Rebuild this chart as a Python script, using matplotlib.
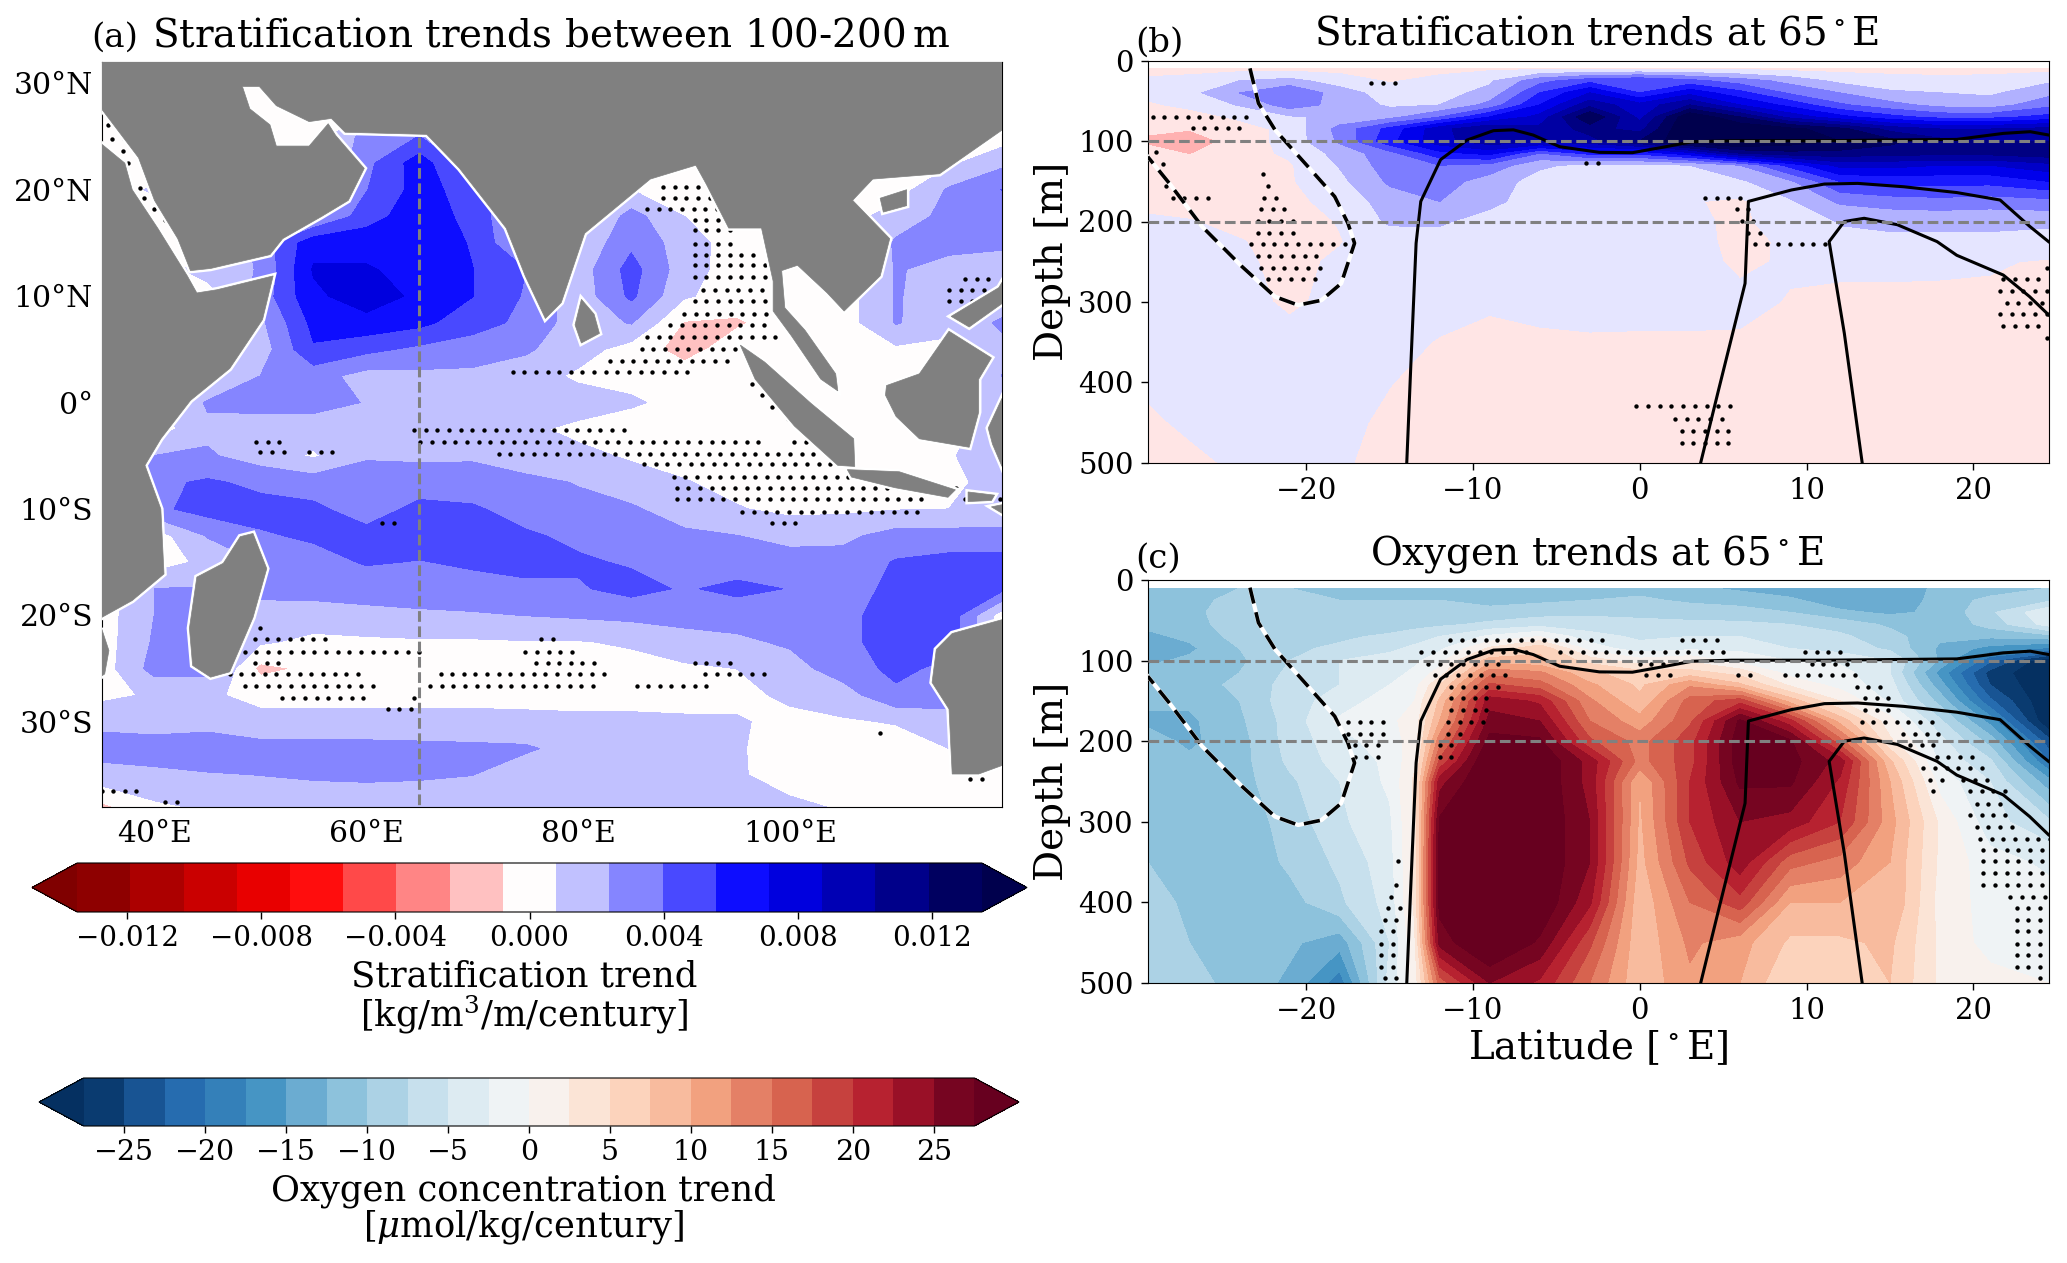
import numpy as np
import matplotlib
matplotlib.use('Agg')
import matplotlib.pyplot as plt

plt.rcParams['font.family'] = 'DejaVu Serif'
plt.rcParams['mathtext.fontset'] = 'dejavuserif'

# panel (a): stratification trend, 1e-3 kg/m3/m/century
lon_a = [35, 40, 45, 50, 55, 60, 65, 70, 75, 80, 85, 90, 95, 100, 105, 110, 115, 120]
lat_a = [-38, -35, -32.5, -30, -27.5, -25, -22.5, -20, -17.5, -15, -12.5, -10, -7.5, -5, -2.5,
         0, 2.5, 5, 7.5, 10, 12.5, 15, 17.5, 20, 22.5, 25, 27.5, 30, 32]
strat_map = [
    [-1.2, 0.5, 1.0, 1.2, 1.3, 1.3, 1.3, 1.3, 1.3, 1.3, 1.3, 1.3, 1.1, 1.0, 0.7, 0.3, 0.3, 0],
    [1.8, 2.0, 2.2, 2.4, 2.6, 2.7, 2.6, 2.4, 1.5, 1.4, 1.4, 1.3, 0.9, 0.4, 0.2, 0.2, 0.2, 0],
    [3, 3.2, 3.8, 3.0, 2.9, 2.9, 2.8, 2.7, 2.6, 1.8, 1.5, 1.3, 0.9, 0.3, 0, 0, 0.8, 0],
    [2.0, 1.6, 1.5, 1.2, 1.3, 1.3, 1.3, 1.3, 1.2, 1.1, 1.1, 1.0, 0.9, 0.5, 0.6, 0.9, 1.3, 0.3],
    [0.4, 1.0, 1.0, 0.4, 0.3, 0.3, 0.3, 0.3, 0.3, 0.3, 0.3, 0.3, 0.5, 1.0, 1.7, 3.6, 3.5, 0],
    [0, 3, 3, -1.2, -0.5, 0.1, 0.2, 0.2, 0.2, 0.2, 0.2, 0.5, 0.8, 1.8, 3.1, 4.4, 3.5, 0],
    [0, 2.6, 3, 1, 0.4, 0.5, 0.6, 0.6, 0.7, 0.7, 1.0, 1.8, 2.1, 2.6, 3.6, 4.6, 4.8, 0],
    [0, 2.4, 3, 1.5, 1.6, 1.9, 2.1, 2.2, 2.4, 2.6, 2.8, 2.9, 3, 3.1, 3.6, 4.6, 5, 0],
    [0, 2.4, 2.5, 3, 3.0, 3.1, 3.2, 3.4, 3.6, 3.8, 4.5, 3.8, 4.4, 3.9, 3.4, 4.3, 4.4, 4.4],
    [0, 0, 1.2, 2.4, 3.4, 4.1, 3.9, 4.2, 4.5, 4.2, 3.8, 3.2, 3.1, 3.0, 3.0, 4.1, 4.5, 4.5],
    [0, 0, 2.5, 3.8, 4.2, 4.5, 4.7, 4.6, 4.2, 3.6, 3.0, 2.7, 2.4, 1.9, 2.0, 3.0, 3.0, 3.0],
    [0, 3.6, 4.6, 4.5, 4.3, 3.2, 4.4, 4.2, 3.3, 2.8, 2.6, 1.6, 0.9, 0.4, 0.5, 0.7, 0.8, 1.0],
    [0, 3.6, 4.2, 3.6, 3.2, 3.2, 3.2, 3.0, 2.8, 2.3, 1.5, 0.9, 0.3, 0, 0, 0.2, 0.3, 1.6],
    [0, 2.4, 2.6, 1.6, 0.6, 2.2, 2.1, 2.2, 1.5, 1.2, 0.6, 0.2, 0, 0, 0, 0, 0.6, 2],
    [0, 0, 2, 1.5, 1.5, 1.7, 1.6, 1.5, 1.1, 0.4, 0, 0, 0, 0, 0, 0, 0, 2],
    [0, 0, 2.6, 3, 3, 2.3, 1.8, 1.8, 1.6, 1.6, 1.0, 0.3, 0, 0, 0, 0, 0, 2],
    [0, 0, 0, 2.4, 3, 1.8, 2, 2, 1.6, 0.5, 0.3, 0, 0, 0, 0, 0, 0, 2.4],
    [0, 0, 0, 1.5, 5.4, 4.4, 3.6, 3.2, 2.6, 1.5, 0.1, -1.4, 0, 0, 0, 0.5, 0.3, 2],
    [0, 0, 0, 2, 6, 6.6, 6.0, 4.6, 3.6, 1.5, 2.5, -0.9, -1.0, 0, 0, 2.5, 1.4, 2.6],
    [0, 0, 0, 3, 6.8, 8, 6.8, 5.6, 3.8, 1.4, 4.3, 1.0, 0, 0, 0, 2.5, 1.6, 1.5],
    [0, 0, 1.5, 2.5, 7.3, 7.3, 6.6, 5.6, 4, 1.5, 4.6, 1.5, 0, 0, 0, 2.5, 1.9, 1.8],
    [0, 0, 0, 3, 6.6, 6.6, 6.8, 5.4, 2, 1, 3.6, 1.6, 0, 0, 0, 2.6, 2.8, 2.6],
    [0, 0, 0, 0, 2, 4.8, 6.6, 5, 2, 0, 3, 0.8, 0, 0, 0, 1.6, 2.8, 2.8],
    [0, 1, 0, 0, 2, 3.9, 6.2, 4.8, 2, 0, 0.8, 0, 0, 0, 0, 0, 2.6, 4],
    [0, 0, 0, 0, 0, 3.5, 6.4, 3, 0, 0, 0, 0, 0, 0, 0, 0, 0.5, 2],
    [0, 0, 0, 0, 0, 3, 4, 1, 0, 0, 0, 0, 0, 0, 0, 0, 0, 0],
    [0] * 18,
    [0] * 18,
    [0] * 18,
]

# land outlines, lon/lat
eurasia = [(35, 27.6), (38.5, 23), (40, 19), (42.2, 15.4), (43.4, 12.4), (45.3, 12.6), (50.9, 13.9),
           (52.1, 15.4), (55.8, 17.5), (58.3, 19), (59.8, 22), (57.1, 25.1), (56.4, 26.2), (54.6, 24.1),
           (51.5, 24.1), (50.9, 26.1), (49, 27.6), (48.3, 29.7), (49.9, 29.7), (51.5, 27.9), (54.6, 26.4),
           (56.7, 26.7), (58, 25.4), (65.7, 25.2), (68.8, 22), (73.2, 16.4), (75, 11.9), (76.9, 7.9),
           (78.4, 9.4), (80.6, 15.9), (86.8, 21), (91.1, 22.3), (92.1, 20.5), (94.2, 16.4), (97.3, 16.4),
           (98.4, 11.4), (98.4, 8.6), (100.1, 6.3), (102.9, 2.2), (104.5, 1.1), (104.3, 2.7), (101.4, 6.8),
           (99.5, 8.9), (99.2, 12.4), (100.7, 12.9), (103.5, 10.3), (105.1, 8.6), (108.5, 11.9),
           (109.4, 15.4), (105.9, 19), (107.8, 21), (114.1, 21.5), (120, 25.6), (120, 32), (35, 32)]
africa = [(35, 24.3), (37.2, 22.5), (37.9, 20), (40.3, 16.4), (43.1, 11.9), (44, 10.3), (45.9, 10.6),
          (51.2, 11.9), (50.2, 7.8), (47.1, 3.2), (43.4, 0.2), (40.6, -3.4), (39.1, -5.9), (40.6, -10),
          (40.9, -16.1), (37.9, -18.6), (35, -20.2)]
africa_south = [(35, -21.2), (35.7, -23.3), (35.3, -25.5), (35, -25.7)]
madagascar = [(49.3, -12.3), (50.6, -15.6), (49.3, -20.2), (47.1, -25.3), (45.3, -25.8), (43.6, -24.7),
              (43.3, -21.2), (44, -16.4), (46.5, -15.1), (48.1, -12.6)]
sri_lanka = [(80.3, 9.7), (81.5, 8.3), (82, 6.5), (80.3, 5.6), (79.7, 7.3)]
sumatra = [(95.3, 5.4), (97.6, 3.8), (102, -0.1), (106, -3.4), (106.1, -6), (104.5, -5.9), (100.4, -2.2),
           (96.7, 2.2)]
java = [(105.4, -6.3), (110.3, -6.5), (115.6, -8.2), (114.9, -8.9), (109.9, -8), (105.8, -7)]
sunda = [(116.8, -8.4), (119.3, -8.7), (119, -9.2), (116.8, -9.3)]
timor = [(119, -9.8), (120, -9.6), (120, -10.4)]
borneo = [(115, 6.7), (119, 4.2), (117.8, 2.2), (117.8, -0.9), (116.9, -4.2), (112.2, -3.4), (110, -1.3),
          (109, 0.7), (109.1, 1.6), (112.2, 2.7)]
hainan = [(108.5, 19.2), (111, 20), (111, 18.5), (108.8, 17.9)]
sulawesi = [(118.7, -2.4), (120, 0.4), (120, -6), (119.1, -3.9)]
philippines = [(115.2, 8.1), (119.7, 10.8), (120, 11.3), (120, 9.3), (116.9, 7.1)]
australia = [(120, -20.4), (115.3, -21.7), (113.8, -23.2), (113.4, -26.3), (115, -28.8), (115.3, -34.9),
             (117.8, -34.9), (120, -34.1)]
land = [eurasia, africa, africa_south, madagascar, sri_lanka, sumatra, java, sunda, timor, borneo, hainan,
        sulawesi, philippines, australia]

# significance stippling runs: (lat, lon start, lon end)
dots_a = [
    (20.25, 88, 91), (19.2, 88, 93), (18.2, 86.5, 93.3), (17.2, 91, 94.2), (16.2, 91, 94.5), (14.9, 91, 94.2),
    (13.9, 91, 96), (12.9, 91, 97.4), (11.8, 91, 97.7), (10.6, 91.8, 97.7), (9.5, 91, 97.7), (8.3, 90, 98),
    (7.3, 88.7, 98), (6.2, 86.5, 98.3), (5, 86, 95), (3.9, 83, 94.2), (2.9, 73.8, 90.5), (2.9, 96.4, 97.3),
    (1.7, 96.4, 98.3), (0.7, 97.3, 99.2), (-0.4, 98.3, 100.4), (-1.5, 99.8, 101), (-2.6, 64.5, 84.3),
    (-3.7, 65.1, 96.7), (-3.7, 100.4, 102.3), (-4.8, 72.5, 101.7), (-5.8, 86.2, 104.8), (-7, 89, 106),
    (-8, 89.3, 116), (-9.1, 89.3, 112), (-9.1, 116.5, 119.5), (-10.3, 95.5, 112.2), (-11.3, 98.3, 100.8),
    (-3.7, 49.6, 52.1), (-4.6, 50, 52.4), (-4.6, 54.6, 57), (26.1, 35.6, 36), (24.8, 36, 36.6), (23.6, 37, 38),
    (22.5, 37.5, 38), (20.2, 37.5, 39), (19.2, 39, 40.3), (18.2, 40, 41), (17.2, 41, 41.5), (-11.3, 61.5, 62.6),
    (-21.2, 50, 50.5), (-22.2, 49.5, 56.5), (-23.4, 48.5, 64.5), (-24.5, 49.5, 52), (-25.5, 46, 59.5),
    (-25.5, 67, 82), (-25.5, 92, 97), (-26.6, 48.5, 61), (-26.6, 66, 81), (-26.6, 85.5, 92), (-27.8, 52, 60),
    (-27.8, 64.5, 64.6), (-28.8, 62, 64), (-22.2, 76.5, 78), (-23.4, 75, 79), (-24.5, 76, 81), (-24.5, 91, 94),
    (-36.5, 35, 38.5), (-37.5, 41, 42.5), (-31, 108.5, 108.6), (-35.4, 117, 118), (10.6, 115, 118),
    (9.5, 115, 118), (11.6, 116.5, 119),
]

# panel (b): stratification section at 65E, 1e-3 kg/m3/m/century
lat_b = [-29.5, -27, -24, -21, -18, -15, -12, -9, -6, -3, 0, 3, 6, 9, 12, 15, 18, 21, 24.5]
depth = [10, 25, 40, 55, 70, 85, 100, 115, 130, 150, 175, 200, 225, 250, 300, 350, 400, 450, 500]
strat_sec = [
    [-1, -1, -1, -1, -1, -1, -1, -0.5, -0.5, -0.3, -0.3, -0.3, -0.5, -1, -1, -1, -1, -1, -1],
    [0.5, 1, 3, 4, 1.5, -0.3, 1, 2.5, 8, 11, 12, 10, 7.5, 5, 2.2, 1.2, 0.8, 1, 2.5],
    [1, 2, 6, 9, 4.5, 1.5, 1.8, 4, 12, 18, 12, 17, 13, 8.5, 6, 3.5, 3, 2.5, 5],
    [-0.5, 0.8, 3.2, 7.5, 5, 2.5, 3, 7, 15, 23, 19, 24, 18, 14, 9.5, 7, 5, 4.5, 8],
    [-1.5, -1.5, 0.6, 2.5, 4, 5, 9, 15, 19, 30, 20, 33, 27, 20, 16, 13, 11, 11, 13],
    [-2.5, -2.8, -1.5, 1, 7, 13, 20, 24, 22, 25, 23, 34, 33, 31, 28, 23, 21, 21, 22],
    [-3.5, -5, -1.5, 1, 6.5, 14, 20, 23, 22, 23, 27, 33, 35, 32, 30, 28, 25, 24, 24],
    [-2, -3.2, -1.2, 0.5, 4, 8, 14, 16, 9, 13, 13, 17, 24, 26, 26, 25, 25, 25, 26],
    [-1, -1.5, -1, -0.3, 3.2, 7.5, 9, 8, 3.5, 2.2, 2, 3, 6, 13, 19, 19, 18, 18, 20],
    [-1, -1, -0.8, -0.3, 2.2, 6.5, 7.5, 4.5, 1.8, 1, 1, 1.2, 2.5, 5.5, 12, 13, 13, 13, 15],
    [-0.5, -0.8, -0.8, -0.6, 0.8, 4.5, 6, 4, 1, 0.8, 0.8, 0.2, -0.5, 2.6, 6.5, 7.5, 8, 7.5, 8],
    [0.3, 0.1, -0.5, -0.8, 0.1, 3.5, 3.5, 1.5, 0.8, 0.8, 0.8, 0.3, -0.3, 0.8, 3.2, 3.5, 3.5, 3.5, 3.5],
    [1, 0.6, 0.1, -0.6, -0.1, 1.2, 1.5, 0.9, 0.8, 0.8, 0.8, 0.6, -0.5, 0.3, 2.2, 2.5, 2.5, 2.5, 2],
    [0.8, 0.6, 0.3, -0.5, 0.3, 0.8, 1, 0.8, 0.8, 0.8, 0.8, 0.6, -0.3, 0.2, 0.4, 0.5, 0.5, 0.3, -0.3],
    [0.8, 0.8, 0.6, -0.3, 0.5, 0.6, 0.6, 0.2, 0.5, 0.6, 0.5, 0.5, 0.4, -0.1, -0.4, -0.5, -0.6, -0.6, -0.8],
    [0.6, 0.6, 0.6, 0.6, 0.6, 0.5, -0.1, -0.4, -0.3, -0.2, -0.2, -0.2, -0.2, -0.4, -0.6, -0.8, -0.8, -0.8, -0.8],
    [0.3, 0.6, 0.6, 0.6, 0.5, 0.05, -0.5, -0.8, -0.8, -0.8, -0.8, -0.8, -0.8, -0.8, -0.8, -0.8, -0.8, -0.8, -0.8],
    [-0.3, 0.3, 0.5, 0.5, 0.4, -0.3, -0.8, -0.8, -0.8, -0.8, -0.8, -0.8, -0.8, -0.8, -0.8, -0.8, -0.8, -0.8, -0.8],
    [-0.8, -0.4, 0.3, 0.4, 0.2, -0.5, -0.8, -0.8, -0.8, -0.8, -0.8, -0.8, -0.8, -0.8, -0.8, -0.8, -0.8, -0.8, -0.8],
]

dots_b = [
    (69.7, -29.2, -23.5), (84, -26.8, -23.8), (113, -29, -28.9), (128, -28.6, -28.5), (141, -22.6, -22.5),
    (156, -28.4, -28.3), (156, -22.3, -22.2), (171, -28, -25.8), (171, -22.5, -21.9), (185, -22.7, -21.5),
    (199, -22.9, -21.1), (214, -22.9, -20.7), (228, -23.3, -17.5), (243, -22.9, -19.1), (257.5, -22.7, -19.1),
    (272, -22.3, -19.5), (28, -16.1, -14.9), (127, -3.2, -2.6), (171, 3.9, 6.3), (185, 5.8, 6.3), (199, 6.1, 6.7),
    (214, 6.5, 7.1), (228, 6.9, 11.07), (257.5, 24.4, 24.5), (272, 21.8, 24), (286.5, 21.6, 24.4), (301, 22, 24.4),
    (315.5, 21.6, 24.4), (330, 21.8, 24), (344.5, 24.4, 24.5), (430, -0.2, 5.5), (445.7, 2.1, 5.1), (460, 2.5, 5.5),
    (475, 2.5, 5.1),
]

# panel (c): oxygen section at 65E, umol/kg/century
lat_c = [-29.5, -27, -24, -21, -18, -15, -13.5, -12, -9, -6, -3, 0, 3, 6, 9, 12, 15, 18, 21, 24.5]
oxy_sec = [
    [-11, -11, -10, -10, -11, -11, -11, -11, -11, -11, -11, -11, -12, -13, -14, -15, -14, -12, -12, -10],
    [-12, -11, -9, -9, -10, -10, -10, -10, -11, -10.5, -10, -9.5, -10.5, -11, -12, -14, -13.5, -12, -9, -8],
    [-12, -11, -8, -8.5, -9, -9, -9, -9, -9, -8.5, -8, -8, -8.5, -9, -10, -12, -13, -12, -8, -3],
    [-12, -11.5, -8, -8.5, -9, -9, -8.5, -8, -7, -6, -6.5, -7, -7, -7, -7.5, -8.5, -10.5, -12, -9, -4],
    [-13, -12, -9, -8, -8, -7, -6, -5, -2, 0, -4, -5.5, -5, -5, -5.5, -7, -9, -12, -12, -11],
    [-14, -13, -10, -8, -7, -5.5, -4.5, -3, 3, 7, -1, -4, -3, -3, -5, -6, -8, -13, -16, -18],
    [-13, -12, -10.5, -7.5, -5, -4, -3, -1, 9, 8, 4, 1, 2, -1, -2.5, -3, -5, -13, -22, -30],
    [-11.5, -11, -10, -7, -5, -3.5, -2, 1, 14, 13, 8, 6, 6, 4, -1, -1.5, -5, -16, -26, -30],
    [-11, -11, -9.5, -6.5, -5, -2.5, -1, 5, 18, 16, 10.5, 7, 12, 8, 2, -1, -4, -14, -25, -30],
    [-12, -12, -10, -6, -4, -1, 0, 8, 24, 22, 13, 8, 16, 19, 9, 2.5, -3, -11, -22, -30],
    [-13, -13, -10.5, -6.5, -2, -0.5, 1, 10, 26, 25, 15, 11, 17, 28, 21, 9, 1, -7, -16, -30],
    [-11.5, -13, -11, -6.5, -3.5, -1, 1, 14, 28.5, 28, 18, 14, 19, 29, 28, 16, 3, -4, -11, -24],
    [-11, -12, -11, -7, -4, -2, 2, 18, 31, 30, 24, 14, 19, 29, 28.5, 24, 8, -3, -7, -20],
    [-11, -12, -11, -8, -5, -2, 3, 24, 31, 30, 24, 10, 20, 28, 28, 22, 10, -1, -5, -14],
    [-11, -12, -11.5, -9, -5.5, -3, 3, 28, 31, 30, 25, 9.5, 20, 25, 24, 20, 11, 2, -4, -7],
    [-10, -12, -12, -9.5, -7, -3.5, 3, 28.5, 31, 30, 25, 9, 18, 24, 16, 14, 10, 2, -1.5, -3],
    [-8, -11, -12, -11, -8, -4, 3, 28.5, 31, 30, 23, 8, 15, 19, 10, 10, 10, 1.5, -1, -1.5],
    [-8, -10, -12, -12, -14, -5, 2, 26, 31, 27, 18, 8, 13, 11, 7, 7, 8, 2, -1, -1],
    [-7.5, -9, -11, -13, -19, -4, 1, 16, 25, 22, 15, 8, 12, 10, 5, 5, 7.5, 2, 1, 0],
]

dots_c = [
    (75, -11.35, -2.4), (75, 2.5, 4.7), (89.5, -13.1, -6.8), (89.5, -4.8, 5.1), (89.5, 9.9, 12), (104, -12.7, -8.2),
    (104, 0, 1.5), (104, 10.3, 12.7), (118, -12.3, -8.2), (118, 0.4, 1.5), (118, 5.9, 6.3), (118, 8.7, 13),
    (132.5, -11.3, -8.8), (132.5, 13, 14.6), (147, -11.3, -9), (147, 13.5, 15), (161, -11.3, -9.4), (161, 13.5, 15),
    (176, -11.5, -9.6), (176, 13.3, 17.6), (176, -17.5, -15.7), (190.6, -11.5, -10.8), (190.6, -17.5, -15.5),
    (190.6, 15.8, 17.6), (205, -12, -11.2), (205, -17.1, -15.7), (205, 16.2, 17.8), (219, -12, -11.4),
    (219, -17.1, -15.5), (219, 17.8, 20.2), (233.6, 17, 20.6), (248, 17.4, 18.2), (248, 19.4, 21), (262.4, 17.6, 17.7),
    (262.4, 19.8, 21.6), (278, 20.2, 21.8), (292, 19.8, 22.2), (306.7, 20.2, 22.2), (321, 20.4, 24.4), (335.5, 20.6, 24.2),
    (349, 20.6, 24.2), (349, -14.5, -14.4), (364, 20.6, 24.2), (378.5, 20.6, 24.2), (378.5, -14.6, -14.5),
    (393, 22.2, 24.4), (393, -14.9, -14.8), (407, 22.6, 24.4), (407, -15.1, -14.5), (422, 22.6, 24.4), (422, -15.3, -14.5),
    (436, 22.6, 24.4), (436, -15.5, -14.5), (451, 22.6, 24.4), (451, -15.5, -14.5), (465, 22.6, 24.4), (465, -15.5, -14.5),
    (479.6, 22.6, 24.4), (479.6, -15.5, -14.7), (494, 24, 24.1), (494, -15.3, -14.5),
]

# density contours shared by (b) and (c)
solid_1 = [(-13.97, 500), (-13.73, 380.6), (-13.41, 227), (-13.13, 175), (-11.94, 123), (-10.36, 98.7), (-8.77, 87),
           (-7.58, 86), (-6.39, 92.5), (-4.8, 107), (-2.42, 114), (-0.44, 114.4), (1.55, 107), (3.13, 100.8),
           (5.52, 99.5), (11.07, 99.5), (19, 97.9), (21.8, 90.4), (23.4, 88.3), (24.5, 92.4)]
solid_2 = [(3.65, 500), (4.72, 409.6), (6.31, 277), (6.51, 175), (9.09, 160.8), (11.07, 153.4), (13.06, 152.6),
           (15.83, 156.8), (19, 164), (21.6, 173.3), (23.37, 206), (24.5, 225)]
solid_3 = [(13.33, 500), (12.26, 339), (11.35, 225), (12.26, 200), (13.45, 196), (15.44, 204), (17.82, 225),
           (19, 242), (21.79, 266.6), (23.37, 293.5), (24.5, 316)]
dashed_1 = [(-23.37, 9.5), (-22.86, 53), (-21.87, 86), (-19.88, 132), (-18.29, 169), (-17.5, 202), (-17.1, 227),
            (-17.9, 277), (-19.09, 298), (-20.48, 304), (-21.87, 293.5), (-23.85, 256), (-26.23, 206.5),
            (-28.2, 152.6), (-29.5, 119.4)]

lon_ticks = [40, 60, 80, 100]
lon_labels = ['40°E', '60°E', '80°E', '100°E']
lat_ticks = [30, 20, 10, 0, -10, -20, -30]
lat_labels = ['30°N', '20°N', '10°N', '0°', '10°S', '20°S', '30°S']
sec_lat_ticks = [-20, -10, 0, 10, 20]
sec_depth_ticks = [0, 100, 200, 300, 400, 500]
strat_cbar_ticks = [-0.012, -0.008, -0.004, 0.0, 0.004, 0.008, 0.012]
oxy_cbar_ticks = [-25, -20, -15, -10, -5, 0, 5, 10, 15, 20, 25]

W, H = 2067, 1263


def px_axes(fig, x0, x1, y0, y1):
    return fig.add_axes([x0 / W, 1 - y1 / H, (x1 - x0) / W, (y1 - y0) / H])


def stipple(ax, runs, step, size):
    for y, x0, x1 in runs:
        xs = np.arange(x0, x1 + step * 0.5, step)
        ax.scatter(xs, [y] * len(xs), s=size, c='black', linewidths=0, zorder=5)


def section_lines(ax):
    for line in [solid_1, solid_2, solid_3]:
        xs, ys = zip(*line)
        ax.plot(xs, ys, color='black', lw=2.2, zorder=6)
    xs, ys = zip(*dashed_1)
    ax.plot(xs, ys, color='white', lw=3, zorder=6)
    ax.plot(xs, ys, color='black', lw=2.6, ls=(0, (4.5, 2.5)), zorder=6)
    for d in [100, 200]:
        ax.axhline(d, color='gray', lw=2.2, ls=(0, (3.5, 1.5)), zorder=7)


def section_axes(ax):
    ax.set_xlim(-29.5, 24.5)
    ax.set_ylim(500, 0)
    ax.set_xticks(sec_lat_ticks)
    ax.set_yticks(sec_depth_ticks)
    ax.tick_params(labelsize=21, length=5, width=1, pad=5)
    ax.set_ylabel('Depth [m]', fontsize=28, labelpad=5)


fig = plt.figure(figsize=(W / 100, H / 100), dpi=100)

# (a) map
ax_a = px_axes(fig, 101.5, 1002, 62, 807)
strat_levels = np.linspace(-13.5, 13.5, 18) * 1e-3
cf_a = ax_a.contourf(lon_a, lat_a, np.array(strat_map) * 1e-3, levels=strat_levels, cmap='seismic_r',
                     extend='both')
stipple(ax_a, dots_a, 1.1, 10)
for poly in land:
    ax_a.fill(*zip(*poly), facecolor='white', edgecolor='white', lw=4, zorder=6)
for poly in land:
    ax_a.fill(*zip(*poly), facecolor='#808080', edgecolor='#808080', lw=0.5, zorder=7)
ax_a.plot([65, 65], [25, -38], color='gray', lw=2.2, ls=(0, (3.5, 1.5)), zorder=8)
ax_a.set_xlim(35, 120)
ax_a.set_ylim(-38, 32)
ax_a.set_xticks(lon_ticks)
ax_a.set_xticklabels(lon_labels)
ax_a.set_yticks(lat_ticks)
ax_a.set_yticklabels(lat_labels)
ax_a.tick_params(length=0, labelsize=21.5, pad=6)
ax_a.tick_params(axis='x', pad=9)
fig.text(551 / W, 1 - 36 / H, 'Stratification trends between 100-200$\\,$m', fontsize=28, ha='center', va='center')
fig.text(91 / W, 1 - 38 / H, '(a)', fontsize=24.5, ha='left', va='center')

# (b) stratification section
ax_b = px_axes(fig, 1147.7, 2048.5, 60.7, 462.7)
sec_levels = np.arange(-30, 31, 3) * 1e-3
ax_b.contourf(lat_b, depth, np.array(strat_sec) * 1e-3, levels=sec_levels, cmap='seismic_r', extend='both')
stipple(ax_b, dots_b, 0.7, 10)
section_lines(ax_b)
section_axes(ax_b)
fig.text(1597 / W, 1 - 34 / H, 'Stratification trends at 65$^\\circ$E', fontsize=28, ha='center', va='center')
fig.text(1135 / W, 1 - 43 / H, '(b)', fontsize=24.5, ha='left', va='center')

# (c) oxygen section
ax_c = px_axes(fig, 1147.7, 2048.5, 580, 983)
oxy_levels = np.arange(-27.5, 27.6, 2.5)
cf_c = ax_c.contourf(lat_c, depth, oxy_sec, levels=oxy_levels, cmap='RdBu_r', extend='both')
stipple(ax_c, dots_c, 0.7, 10)
section_lines(ax_c)
section_axes(ax_c)
ax_c.set_xlabel('Latitude [$^\\circ$E]', fontsize=28, labelpad=2)
fig.text(1597 / W, 1 - 554 / H, 'Oxygen trends at 65$^\\circ$E', fontsize=28, ha='center', va='center')
fig.text(1135 / W, 1 - 559 / H, '(c)', fontsize=24.5, ha='left', va='center')

# colourbars, axes run tip to tip
cax1 = px_axes(fig, 32, 1027, 863, 912)
cb1 = fig.colorbar(cf_a, cax=cax1, orientation='horizontal', extendfrac=0.05, ticks=strat_cbar_ticks)
cb1.ax.set_xticklabels(['\u22120.012', '\u22120.008', '\u22120.004', '0.000', '0.004', '0.008', '0.012'])
cb1.ax.tick_params(labelsize=20, length=5, width=1, pad=4)
cb1.set_label('Stratification trend\n[kg/m$^3$/m/century]', fontsize=25.5, labelpad=6, linespacing=1.0, x=0.494)

cax2 = px_axes(fig, 39, 1019, 1078, 1126)
cb2 = fig.colorbar(cf_c, cax=cax2, orientation='horizontal', extendfrac=0.05, ticks=oxy_cbar_ticks)
cb2.ax.tick_params(labelsize=20.5, length=5, width=1, pad=4)
cb2.set_label('Oxygen concentration trend\n[$\\mu$mol/kg/century]', fontsize=25.5, labelpad=6, linespacing=1.0, x=0.494)

fig.savefig('out.png', dpi=100)
